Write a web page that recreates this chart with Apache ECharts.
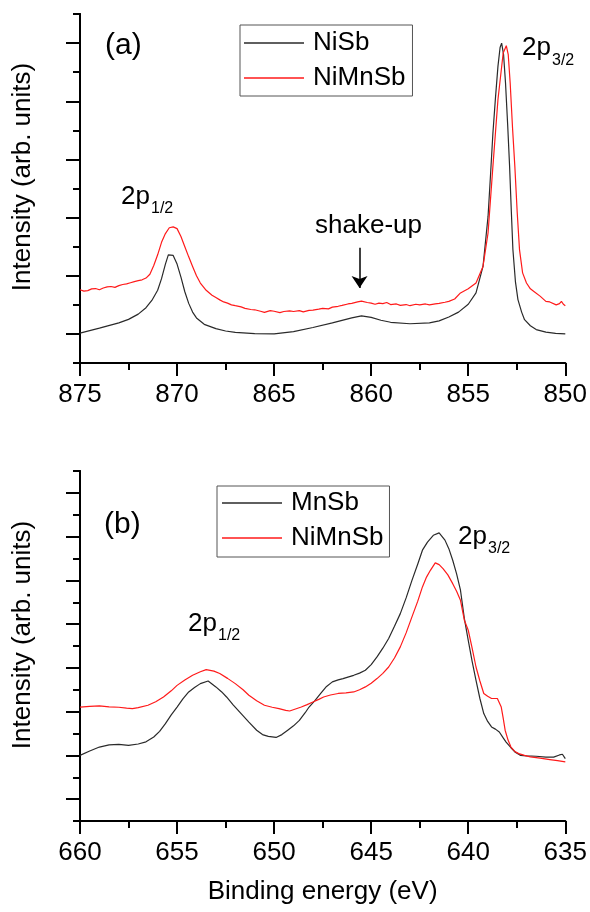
<!DOCTYPE html>
<html>
<head>
<meta charset="utf-8">
<script src="https://cdn.jsdelivr.net/npm/echarts@6/dist/echarts.min.js"></script>
<style>
html,body{margin:0;padding:0;background:#fff;}
#chart{width:590px;height:912px;}
</style>
</head>
<body>
<div id="chart"></div>
<script>
// ---------- Panel (a): Ni 2p ----------
const A_NISB_E = [875.0,874.0,873.0,872.5,872.0,871.6,871.3,871.0,870.8,870.6,870.45,870.35,870.2,870.0,869.8,869.6,869.4,869.2,869.0,868.6,868.0,867.5,867.0,866.0,865.0,864.0,863.0,862.0,861.0,860.5,860.0,859.5,859.0,858.0,857.0,856.5,856.0,855.5,855.0,854.6,854.24,853.98,853.85,853.73,853.6,853.47,853.36,853.28,853.18,853.08,852.97,852.87,852.78,852.7,852.57,852.44,852.25,852.1,851.8,851.5,851.0,850.5,850.0];
const A_NISB_V = [1.03,1.20,1.38,1.50,1.68,1.90,2.15,2.50,2.90,3.40,3.72,3.78,3.70,3.40,2.95,2.45,2.05,1.75,1.55,1.33,1.18,1.10,1.05,1.01,1.00,1.08,1.22,1.38,1.55,1.62,1.57,1.47,1.40,1.35,1.38,1.45,1.58,1.75,2.02,2.41,3.32,5.04,6.50,7.90,9.10,10.20,10.85,11.00,10.60,9.63,8.20,6.76,5.20,3.90,2.80,2.18,1.75,1.49,1.28,1.15,1.06,1.02,1.00];

const A_NIMNSB_E = [875.0,874.8,874.6,874.4,874.2,874.0,873.8,873.6,873.4,873.2,873.0,872.8,872.6,872.4,872.2,872.0,871.8,871.6,871.4,871.2,871.0,870.8,870.6,870.4,870.2,870.0,869.8,869.6,869.4,869.2,869.0,868.8,868.5,868.2,868.0,867.8,867.6,867.4,867.2,867.0,866.7,866.5,866.2,866.0,865.7,865.5,865.2,865.0,864.7,864.5,864.2,864.0,863.7,863.5,863.2,863.0,862.7,862.5,862.2,862.0,861.7,861.5,861.2,861.0,860.7,860.5,860.4,860.2,860.0,859.8,859.6,859.4,859.2,859.0,858.7,858.5,858.2,858.0,857.7,857.5,857.2,857.0,856.7,856.5,856.2,856.0,855.7,855.4,855.0,854.6,854.24,853.98,853.73,853.47,853.2,853.04,852.94,852.84,852.72,852.6,852.48,852.36,852.2,852.0,851.8,851.6,851.5,851.3,851.2,851.0,850.8,850.7,850.47,850.3,850.2,850.1,850.0];
const A_NIMNSB_V = [2.52,2.47,2.49,2.55,2.56,2.52,2.58,2.62,2.63,2.60,2.66,2.70,2.72,2.76,2.80,2.83,2.86,2.92,3.05,3.35,3.72,4.15,4.45,4.65,4.68,4.62,4.35,4.00,3.65,3.32,3.00,2.75,2.50,2.33,2.25,2.17,2.10,2.06,2.00,1.97,1.93,1.88,1.84,1.83,1.78,1.74,1.80,1.78,1.73,1.77,1.79,1.77,1.80,1.76,1.81,1.82,1.85,1.88,1.86,1.92,1.95,1.98,2.03,2.05,2.10,2.13,2.18,2.08,2.06,2.02,2.06,2.04,2.08,2.01,2.03,1.98,2.01,1.97,2.02,2.00,2.03,2.00,2.03,2.05,2.09,2.12,2.20,2.41,2.55,2.75,3.32,4.47,6.76,9.05,10.66,10.91,10.60,9.63,8.10,6.76,5.20,3.90,3.10,2.75,2.55,2.45,2.41,2.30,2.25,2.12,2.10,2.06,2.00,2.04,2.12,2.02,1.97];

const A_X_MIN = 850, A_X_MAX = 875;
const A_Y_MINOR_TICKS = [0,2,4,6,8,10,12];
const A_Y_MAJOR_TICKS = [1,3,5,7,9,11];
const A_ARROW = [860.6, 3.96, 2.58];

// ---------- Panel (b): Mn 2p ----------
const B_MNSB_E = [660.0,659.5,659.0,658.5,658.0,657.5,657.0,656.6,656.2,655.9,655.6,655.3,655.0,654.7,654.4,654.1,653.8,653.4,653.0,652.7,652.45,652.1,651.7,651.3,650.9,650.6,650.3,649.9,649.6,649.3,649.0,648.7,648.4,648.2,647.9,647.6,647.3,647.0,646.7,646.45,646.2,645.9,645.6,645.3,645.0,644.7,644.4,644.1,643.8,643.5,643.2,642.9,642.6,642.36,642.1,641.8,641.5,641.2,641.0,640.8,640.6,640.4,640.2,640.0,639.8,639.6,639.4,639.2,639.0,638.8,638.6,638.4,638.2,638.05,637.8,637.6,637.3,637.0,636.5,636.0,635.6,635.3,635.15,635.0];
const B_MNSB_V = [3.00,3.20,3.38,3.48,3.50,3.46,3.52,3.62,3.84,4.10,4.45,4.85,5.21,5.58,5.90,6.10,6.28,6.40,6.13,5.90,5.67,5.30,4.91,4.52,4.15,3.95,3.87,3.82,3.95,4.15,4.35,4.60,4.95,5.21,5.50,5.83,6.15,6.36,6.45,6.51,6.58,6.66,6.76,6.89,7.15,7.50,7.90,8.34,8.90,9.48,10.20,11.00,11.75,12.38,12.75,13.06,13.17,12.84,12.45,11.92,11.30,10.55,9.25,8.26,7.30,6.43,5.60,4.91,4.55,4.30,4.20,4.07,3.80,3.61,3.35,3.16,3.00,2.98,2.96,2.92,2.92,3.02,3.05,2.85];

const B_NIMNSB_E = [660.0,659.5,659.0,658.5,658.0,657.6,657.3,657.0,656.5,656.1,655.7,655.3,655.0,654.6,654.2,653.8,653.5,653.1,652.8,652.4,652.0,651.6,651.3,650.9,650.5,650.1,649.75,649.4,649.2,648.9,648.6,648.3,648.0,647.7,647.45,647.1,646.7,646.3,645.9,645.6,645.3,645.0,644.7,644.4,644.1,643.8,643.5,643.2,642.9,642.6,642.36,642.15,641.95,641.7,641.5,641.3,641.05,640.8,640.6,640.4,640.2,640.0,639.8,639.6,639.4,639.2,639.0,638.8,638.5,638.3,638.2,638.1,637.95,637.8,637.6,637.4,637.1,636.8,636.3,635.8,635.4,635.0];
const B_NIMNSB_V = [5.21,5.24,5.26,5.22,5.20,5.16,5.14,5.18,5.29,5.45,5.67,5.95,6.20,6.45,6.66,6.82,6.92,6.85,6.74,6.52,6.28,6.00,5.75,5.50,5.29,5.20,5.14,5.06,5.03,5.12,5.21,5.32,5.44,5.56,5.67,5.76,5.83,5.86,5.90,6.00,6.13,6.30,6.51,6.75,7.04,7.45,7.96,8.60,9.33,10.05,10.70,11.15,11.46,11.80,11.72,11.54,11.25,10.85,10.50,10.09,9.18,8.72,7.90,7.04,6.40,5.83,5.70,5.60,5.60,5.21,4.70,4.15,3.70,3.38,3.18,3.08,3.00,2.93,2.87,2.81,2.76,2.70];

const B_X_MIN = 635, B_X_MAX = 660;
const B_Y_MINOR_TICKS = [0,2,4,6,8,10,12,14,16];
const B_Y_MAJOR_TICKS = [1,3,5,7,9,11,13,15];

const X_INTERVAL = 5;
const SERIES_NAMES_A = ['NiSb','NiMnSb'];
const SERIES_NAMES_B = ['MnSb','NiMnSb'];

// ---------- build ----------
const FONT = '"Liberation Sans", Arial, sans-serif';
const BLACK = '#2a2a2a', RED = '#ff1a1a';
const zip = (xs, ys) => xs.map((x, i) => [x, ys[i]]);

const axisLine = {show:true, lineStyle:{color:'#000', width:2}};
function xAxis(grid, min, max, withName){
  return {
    gridIndex:grid, type:'value', min:min, max:max, interval:X_INTERVAL, inverse:true,
    axisLine:axisLine,
    axisTick:{show:true, length:13, lineStyle:{color:'#000', width:2}},
    minorTick:{show:true, splitNumber:2, length:7, lineStyle:{color:'#000', width:2}},
    splitLine:{show:false}, minorSplitLine:{show:false},
    axisLabel:{show:true, margin:19, fontSize:26, fontFamily:FONT, color:'#000'},
    name: withName ? 'Binding energy (eV)' : '',
    nameLocation:'middle', nameGap:58,
    nameTextStyle:{fontSize:26, fontFamily:FONT, color:'#000'}
  };
}
function yAxis(grid, max, ticks, len){
  return {
    gridIndex:grid, type:'value', min:0, max:max, position:'left',
    axisLine:axisLine,
    axisTick:{show:true, length:len, customValues:ticks, lineStyle:{color:'#000', width:2}},
    axisLabel:{show:false}, splitLine:{show:false}
  };
}
function legend(names, left, top, padding){
  return {
    data:names, orient:'vertical', left:left, top:top,
    padding:padding, itemGap:5, itemWidth:60, itemHeight:1.5, icon:'rect',
    borderColor:'#555', borderWidth:1, backgroundColor:'#fff',
    selectedMode:false,
    textStyle:{fontSize:26, fontFamily:FONT, color:'#000', lineHeight:30, padding:[0,0,0,4]}
  };
}
function line(name, xi, yi, data, color, extra){
  return Object.assign({
    name:name, type:'line', xAxisIndex:xi, yAxisIndex:yi, data:data,
    showSymbol:false, symbol:'none', animation:false, silent:true,
    lineStyle:{color:color, width:1.2}, itemStyle:{color:color}
  }, extra || {});
}

const txt = (text, x, y, size, extra) => Object.assign({
  type:'text', x:x, y:y,
  style:{text:text, font:size + 'px ' + FONT, fill:'#000', align:'left', verticalAlign:'middle'}
}, extra || {});
const vtxt = (text, x, y) => ({
  type:'text', x:x, y:y, rotation:Math.PI/2,
  style:{text:text, font:'26px ' + FONT, fill:'#000', align:'center', verticalAlign:'middle'}
});

const option = {
  animation:false,
  backgroundColor:'#fff',
  grid:[
    {left:80, right:24, top:14, height:349},
    {left:80, right:24, top:471, height:350}
  ],
  xAxis:[ xAxis(0, A_X_MIN, A_X_MAX, false), xAxis(1, B_X_MIN, B_X_MAX, true) ],
  yAxis:[
    yAxis(0, 12, A_Y_MINOR_TICKS, 7), yAxis(0, 12, A_Y_MAJOR_TICKS, 14),
    yAxis(1, 16, B_Y_MINOR_TICKS, 7), yAxis(1, 16, B_Y_MAJOR_TICKS, 14)
  ],
  legend:[
    legend(SERIES_NAMES_A, 240, 25, [3,7,3,4]),
    legend(SERIES_NAMES_B, 217, 486, [2,6,4,5])
  ],
  series:[
    line(SERIES_NAMES_A[0], 0, 0, zip(A_NISB_E, A_NISB_V), BLACK, {
      markLine:{
        silent:true, animation:false, symbol:['none','arrow'], symbolSize:12,
        label:{show:false}, lineStyle:{color:'#000', width:1.5, type:'solid'},
        data:[[{coord:[A_ARROW[0], A_ARROW[1]]},{coord:[A_ARROW[0], A_ARROW[2]]}]]
      }
    }),
    line(SERIES_NAMES_A[1], 0, 0, zip(A_NIMNSB_E, A_NIMNSB_V), RED),
    line(SERIES_NAMES_B[0], 1, 2, zip(B_MNSB_E, B_MNSB_V), BLACK),
    line(SERIES_NAMES_B[1], 1, 2, zip(B_NIMNSB_E, B_NIMNSB_V), RED)
  ],
  graphic:[
    txt('(a)', 105, 46, 30),
    txt('(b)', 104, 525, 30),
    vtxt('Intensity (arb. units)', 23, 177),
    vtxt('Intensity (arb. units)', 23, 635),
    txt('2p', 121, 197, 26), txt('1/2', 151, 209, 16),
    txt('2p', 522, 48, 26), txt('3/2', 552, 61, 16),
    txt('shake-up', 315, 226, 26),
    txt('2p', 188, 624, 26), txt('1/2', 218, 636, 16),
    txt('2p', 458, 537, 26), txt('3/2', 488, 549, 16)
  ]
};

const chart = echarts.init(document.getElementById('chart'), null, {renderer:'canvas'});
chart.setOption(option);
</script>
</body>
</html>
